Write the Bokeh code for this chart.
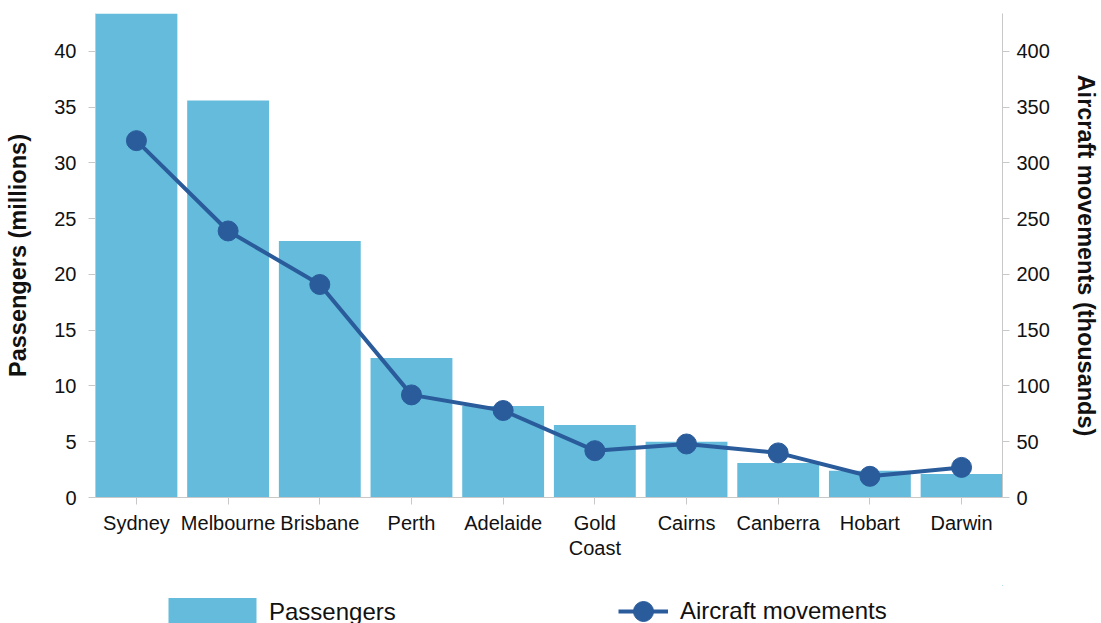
from bokeh.plotting import figure
from bokeh.layouts import column
from bokeh.models import Range1d, LinearAxis, Legend, LegendItem, FixedTicker
from bokeh.embed import file_html
from bokeh.resources import INLINE

airports = ["Sydney", "Melbourne", "Brisbane", "Perth", "Adelaide",
            "Gold Coast", "Cairns", "Canberra", "Hobart", "Darwin"]
label_line1 = ["Sydney", "Melbourne", "Brisbane", "Perth", "Adelaide",
               "Gold", "Cairns", "Canberra", "Hobart", "Darwin"]
label_line2 = {5: "Coast"}
passengers = [44.4, 35.6, 23.0, 12.5, 8.2, 6.5, 5.0, 3.1, 2.4, 2.1]
movements = [320, 239, 191, 92, 78, 42, 48, 40, 19, 27]
left_ticks = [0, 5, 10, 15, 20, 25, 30, 35, 40]
right_ticks = [0, 50, 100, 150, 200, 250, 300, 350, 400]

idx = list(range(len(airports)))

BAR = "#65bbdb"
LINE = "#2a5b9b"
FONT = "Liberation Sans"
AX = "#c8c8c8"
TXT = "#111111"
BAR_W = 0.893

p = figure(x_range=Range1d(-BAR_W / 2, len(airports) - 1 + BAR_W / 2),
           y_range=Range1d(0, 43.4), width=1101, height=585,
           output_backend="svg", toolbar_location=None,
           min_border_left=95, min_border_right=98, min_border_top=13,
           min_border_bottom=88, outline_line_color=None)
p.extra_y_ranges = {"mov": Range1d(0, 434)}
p.grid.visible = False

bars = p.vbar(x=idx, top=passengers, width=BAR_W, color=BAR, line_color=None)
ln = p.line(x=idx, y=movements, line_width=4, color=LINE, y_range_name="mov")
pts = p.scatter(x=idx, y=movements, size=20, color=LINE, y_range_name="mov")

ra = LinearAxis(y_range_name="mov")
p.add_layout(ra, "right")

for ax in [p.yaxis[0], ra]:
    ax.axis_line_color = AX
    ax.major_tick_line_color = AX
    ax.minor_tick_line_color = None
    ax.major_tick_in = 0
    ax.major_tick_out = 7
    ax.major_label_text_font = FONT
    ax.major_label_text_font_size = "20px"
    ax.major_label_text_color = TXT
    ax.axis_label_text_font = FONT
    ax.axis_label_text_font_size = "23.5px"
    ax.axis_label_text_font_style = "bold"
    ax.axis_label_text_color = TXT

p.yaxis[0].ticker = FixedTicker(ticks=left_ticks)
ra.ticker = FixedTicker(ticks=right_ticks)
p.yaxis[0].axis_label = "Passengers (millions)"
ra.axis_label = "Aircraft movements (thousands)"
p.yaxis[0].major_label_standoff = 12
p.yaxis[0].axis_label_standoff = 20
ra.major_label_standoff = 7
ra.axis_label_standoff = 20

xa = p.xaxis[0]
xa.ticker = FixedTicker(ticks=idx)
xa.axis_line_color = AX
xa.major_tick_line_color = AX
xa.minor_tick_line_color = None
xa.major_tick_in = 0
xa.major_tick_out = 7
xa.major_label_standoff = 7
xa.major_label_text_font = FONT
xa.major_label_text_font_size = "20px"
xa.major_label_text_color = TXT
xa.major_label_overrides = dict(zip(idx, label_line1))

xa2 = LinearAxis(ticker=FixedTicker(ticks=list(label_line2.keys())))
xa2.axis_line_color = None
xa2.major_tick_line_color = None
xa2.minor_tick_line_color = None
xa2.major_tick_in = 0
xa2.major_tick_out = 0
xa2.major_label_standoff = 0
xa2.major_label_text_font = FONT
xa2.major_label_text_font_size = "20px"
xa2.major_label_text_color = TXT
xa2.major_label_overrides = label_line2
p.add_layout(xa2, "below")

# legend strip below the chart
lf = figure(x_range=Range1d(-2, -1), y_range=Range1d(-2, -1), width=1101, height=38,
            output_backend="svg", toolbar_location=None, x_axis_type=None,
            y_axis_type=None, min_border=0, outline_line_color=None)
lf.grid.visible = False
lbars = lf.vbar(x=idx, top=passengers, width=BAR_W, color=BAR, line_color=None)
lln = lf.line(x=idx, y=movements, line_width=4, color=LINE)
lpts = lf.scatter(x=idx, y=movements, size=20, color=LINE)


def mk_legend(item, loc, gw, gh, standoff):
    return Legend(items=[item], location=loc, orientation="horizontal",
                  glyph_width=gw, glyph_height=gh, label_standoff=standoff,
                  padding=0, margin=0, border_line_color=None,
                  background_fill_alpha=0, label_text_font=FONT,
                  label_text_font_size="24px", label_text_color=TXT,
                  label_height=24)


lf.add_layout(mk_legend(LegendItem(label="Passengers", renderers=[lbars]),
                        (62, -6), 110, 35, 2))
lf.add_layout(mk_legend(LegendItem(label="Aircraft movements", renderers=[lln, lpts]),
                        (523, -13), 50, 50, 12))

layout = column(p, lf, spacing=0)
open("out.html", "w").write(file_html(layout, INLINE))
